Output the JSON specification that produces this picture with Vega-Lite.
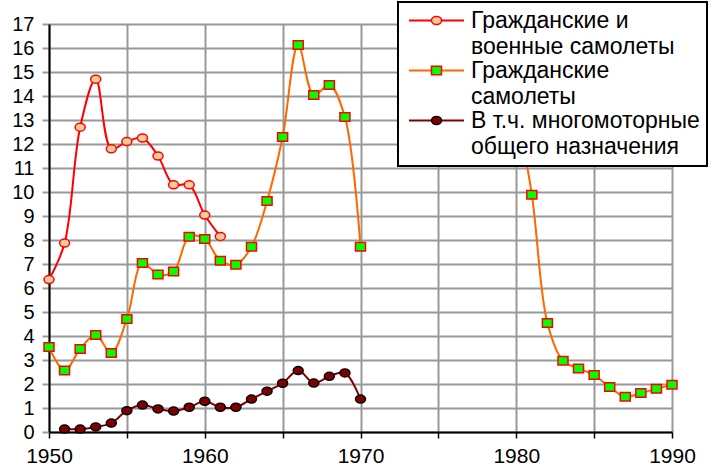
{
  "$schema": "https://vega.github.io/schema/vega-lite/v6.json",
  "width": 623,
  "height": 408,
  "autosize": {"type": "none"},
  "padding": {"left": 49, "top": 24, "right": 41, "bottom": 39},
  "background": "white",
  "config": {"view": {"stroke": null}, "font": "Liberation Sans"},
  "data": {
    "values": [
      {"year": 1950, "series": "Гражданские и военные самолеты", "value": 6.35},
      {"year": 1951, "series": "Гражданские и военные самолеты", "value": 7.87},
      {"year": 1952, "series": "Гражданские и военные самолеты", "value": 12.7},
      {"year": 1953, "series": "Гражданские и военные самолеты", "value": 14.7},
      {"year": 1954, "series": "Гражданские и военные самолеты", "value": 11.8},
      {"year": 1955, "series": "Гражданские и военные самолеты", "value": 12.1},
      {"year": 1956, "series": "Гражданские и военные самолеты", "value": 12.25},
      {"year": 1957, "series": "Гражданские и военные самолеты", "value": 11.5},
      {"year": 1958, "series": "Гражданские и военные самолеты", "value": 10.3},
      {"year": 1959, "series": "Гражданские и военные самолеты", "value": 10.3},
      {"year": 1960, "series": "Гражданские и военные самолеты", "value": 9.04},
      {"year": 1961, "series": "Гражданские и военные самолеты", "value": 8.15},
      {"year": 1950, "series": "Гражданские самолеты", "value": 3.54},
      {"year": 1951, "series": "Гражданские самолеты", "value": 2.56},
      {"year": 1952, "series": "Гражданские самолеты", "value": 3.46},
      {"year": 1953, "series": "Гражданские самолеты", "value": 4.04},
      {"year": 1954, "series": "Гражданские самолеты", "value": 3.29},
      {"year": 1955, "series": "Гражданские самолеты", "value": 4.71},
      {"year": 1956, "series": "Гражданские самолеты", "value": 7.04},
      {"year": 1957, "series": "Гражданские самолеты", "value": 6.56},
      {"year": 1958, "series": "Гражданские самолеты", "value": 6.69},
      {"year": 1959, "series": "Гражданские самолеты", "value": 8.14},
      {"year": 1960, "series": "Гражданские самолеты", "value": 8.04},
      {"year": 1961, "series": "Гражданские самолеты", "value": 7.14},
      {"year": 1962, "series": "Гражданские самолеты", "value": 6.97},
      {"year": 1963, "series": "Гражданские самолеты", "value": 7.72},
      {"year": 1964, "series": "Гражданские самолеты", "value": 9.62},
      {"year": 1965, "series": "Гражданские самолеты", "value": 12.29},
      {"year": 1966, "series": "Гражданские самолеты", "value": 16.12},
      {"year": 1967, "series": "Гражданские самолеты", "value": 14.04},
      {"year": 1968, "series": "Гражданские самолеты", "value": 14.46},
      {"year": 1969, "series": "Гражданские самолеты", "value": 13.12},
      {"year": 1970, "series": "Гражданские самолеты", "value": 7.72},
      {"year": 1975, "series": "Гражданские самолеты", "value": null},
      {"year": 1980, "series": "Гражданские самолеты", "value": 13.5},
      {"year": 1981, "series": "Гражданские самолеты", "value": 9.89},
      {"year": 1982, "series": "Гражданские самолеты", "value": 4.54},
      {"year": 1983, "series": "Гражданские самолеты", "value": 2.97},
      {"year": 1984, "series": "Гражданские самолеты", "value": 2.65},
      {"year": 1985, "series": "Гражданские самолеты", "value": 2.37},
      {"year": 1986, "series": "Гражданские самолеты", "value": 1.87},
      {"year": 1987, "series": "Гражданские самолеты", "value": 1.47},
      {"year": 1988, "series": "Гражданские самолеты", "value": 1.62},
      {"year": 1989, "series": "Гражданские самолеты", "value": 1.8},
      {"year": 1990, "series": "Гражданские самолеты", "value": 1.97},
      {"year": 1951, "series": "В т.ч. многомоторные общего назначения", "value": 0.12},
      {"year": 1952, "series": "В т.ч. многомоторные общего назначения", "value": 0.12},
      {"year": 1953, "series": "В т.ч. многомоторные общего назначения", "value": 0.21},
      {"year": 1954, "series": "В т.ч. многомоторные общего назначения", "value": 0.37},
      {"year": 1955, "series": "В т.ч. многомоторные общего назначения", "value": 0.89},
      {"year": 1956, "series": "В т.ч. многомоторные общего назначения", "value": 1.12},
      {"year": 1957, "series": "В т.ч. многомоторные общего назначения", "value": 0.96},
      {"year": 1958, "series": "В т.ч. многомоторные общего назначения", "value": 0.87},
      {"year": 1959, "series": "В т.ч. многомоторные общего назначения", "value": 1.03},
      {"year": 1960, "series": "В т.ч. многомоторные общего назначения", "value": 1.28},
      {"year": 1961, "series": "В т.ч. многомоторные общего назначения", "value": 1.03},
      {"year": 1962, "series": "В т.ч. многомоторные общего назначения", "value": 1.03},
      {"year": 1963, "series": "В т.ч. многомоторные общего назначения", "value": 1.37},
      {"year": 1964, "series": "В т.ч. многомоторные общего назначения", "value": 1.7},
      {"year": 1965, "series": "В т.ч. многомоторные общего назначения", "value": 2.03},
      {"year": 1966, "series": "В т.ч. многомоторные общего назначения", "value": 2.56},
      {"year": 1967, "series": "В т.ч. многомоторные общего назначения", "value": 2.04},
      {"year": 1968, "series": "В т.ч. многомоторные общего назначения", "value": 2.32},
      {"year": 1969, "series": "В т.ч. многомоторные общего назначения", "value": 2.46},
      {"year": 1970, "series": "В т.ч. многомоторные общего назначения", "value": 1.37}
    ]
  },
  "encoding": {
    "x": {
      "field": "year",
      "type": "quantitative",
      "scale": {"domain": [1950, 1990], "nice": false, "zero": false},
      "axis": {
        "title": null,
        "values": [1950, 1955, 1960, 1965, 1970, 1975, 1980, 1985, 1990],
        "format": "d",
        "labelExpr": "datum.value % 10 == 0 ? datum.label : ''",
        "grid": true,
        "gridColor": "#999999",
        "gridWidth": 2,
        "domainColor": "#000000",
        "domainWidth": 2,
        "tickColor": "#000000",
        "tickWidth": 1.5,
        "tickSize": 6,
        "labelFont": "Liberation Sans",
        "labelFontSize": 21,
        "labelColor": "#000000",
        "labelPadding": 7,
        "labelFlush": false,
        "labelOverlap": false
      }
    },
    "y": {
      "field": "value",
      "type": "quantitative",
      "scale": {"domain": [0, 17], "nice": false},
      "axis": {
        "title": null,
        "values": [0, 1, 2, 3, 4, 5, 6, 7, 8, 9, 10, 11, 12, 13, 14, 15, 16, 17],
        "grid": true,
        "gridColor": "#999999",
        "gridWidth": 2,
        "domainColor": "#000000",
        "domainWidth": 2,
        "tickColor": "#999999",
        "tickWidth": 2,
        "tickSize": 7,
        "labelFont": "Liberation Sans",
        "labelFontSize": 20,
        "labelColor": "#000000",
        "labelPadding": 8,
        "labelOverlap": false
      }
    }
  },
  "layer": [
    {
      "mark": {"type": "line", "interpolate": "catmull-rom", "strokeWidth": 2, "invalid": "break-paths-show-domains"},
      "encoding": {
        "stroke": {
          "field": "series",
          "type": "nominal",
          "scale": {
            "domain": ["Гражданские и военные самолеты", "Гражданские самолеты", "В т.ч. многомоторные общего назначения"],
            "range": ["#FF0000", "#FF6600", "#800000"]
          },
          "legend": {
            "orient": "none",
            "legendX": 349,
            "legendY": -22,
            "zindex": 1,
            "title": null,
            "padding": 7,
            "fillColor": "#FFFFFF",
            "strokeColor": "#000000",
            "symbolType": "M -5.5 0 H 5.5",
            "symbolSize": 100,
            "symbolStrokeWidth": 2,
            "symbolOffset": 20,
            "labelOffset": 23,
            "labelFont": "Liberation Sans",
            "labelFontSize": 23,
            "labelColor": "#000000",
            "labelBaseline": "middle",
            "labelLimit": 0,
            "rowPadding": 0,
            "labelExpr": "datum.label == 'Гражданские и военные самолеты' ? ['Гражданские и', 'военные самолеты'] : datum.label == 'Гражданские самолеты' ? ['Гражданские', 'самолеты'] : ['В т.ч. многомоторные', 'общего назначения']",
            "encode": {
              "legend": {"update": {"strokeWidth": {"value": 2}}},
              "labels": {"update": {"lineHeight": {"value": 26}}}
            }
          }
        }
      }
    },
    {
      "mark": {"type": "point", "filled": true, "size": 100, "strokeWidth": 1.5, "opacity": 1, "fillOpacity": 1, "strokeOpacity": 1},
      "encoding": {
        "fill": {
          "field": "series",
          "type": "nominal",
          "scale": {
            "domain": ["Гражданские и военные самолеты", "Гражданские самолеты", "В т.ч. многомоторные общего назначения"],
            "range": ["#FFCC99", "#00FF00", "#800000"]
          },
          "legend": {
            "orient": "none",
            "legendX": 349,
            "legendY": -22,
            "zindex": 2,
            "title": null,
            "padding": 7,
            "symbolSize": 100,
            "symbolStrokeWidth": 1.5,
            "symbolOffset": 20,
            "labelOffset": 23,
            "labelFont": "Liberation Sans",
            "labelFontSize": 23,
            "labelBaseline": "middle",
            "labelLimit": 0,
            "rowPadding": 26,
            "labelExpr": "''"
          }
        },
        "stroke": {
          "field": "series",
          "type": "nominal",
          "scale": {
            "domain": ["Гражданские и военные самолеты", "Гражданские самолеты", "В т.ч. многомоторные общего назначения"],
            "range": ["#FF0000", "#FF0000", "#000000"]
          }
        },
        "shape": {
          "field": "series",
          "type": "nominal",
          "scale": {
            "domain": ["Гражданские и военные самолеты", "Гражданские самолеты", "В т.ч. многомоторные общего назначения"],
            "range": [
              "M -1 0 A 1 0.8 0 1 0 1 0 A 1 0.8 0 1 0 -1 0 Z",
              "M -1 -0.85 H 1 V 0.85 H -1 Z",
              "M -1 0 A 1 0.8 0 1 0 1 0 A 1 0.8 0 1 0 -1 0 Z"
            ]
          }
        }
      }
    }
  ],
  "resolve": {
    "scale": {"stroke": "independent"},
    "legend": {"stroke": "independent", "fill": "independent", "shape": "independent"}
  }
}
